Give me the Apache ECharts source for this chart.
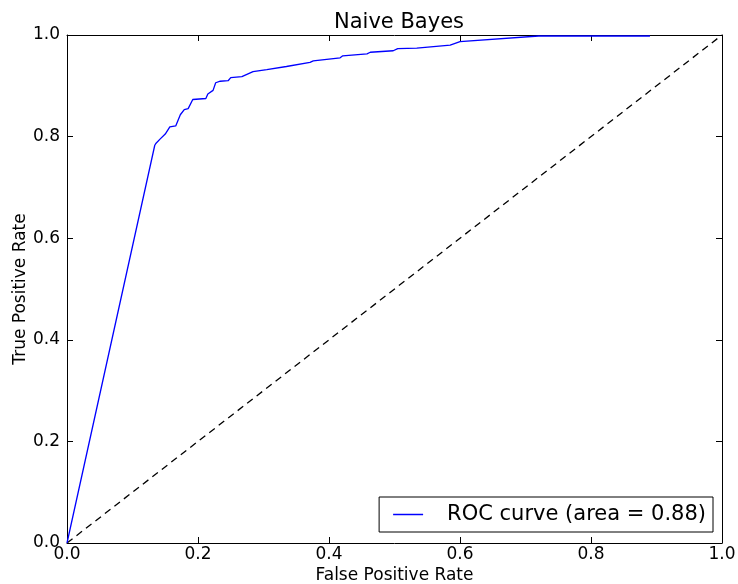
<!DOCTYPE html>
<html>
<head>
<meta charset="utf-8">
<script src="https://cdn.jsdelivr.net/npm/echarts@6/dist/echarts.min.js"></script>
<style>
html,body{margin:0;padding:0;background:#fff;}
#chart{width:738px;height:584px;}
</style>
</head>
<body>
<div id="chart"></div>
<script>
// ROC curve points
var fpr = [0.000, 0.134, 0.136, 0.142, 0.150, 0.157, 0.166, 0.173, 0.179, 0.185, 0.192, 0.212, 0.215, 0.223, 0.227, 0.234, 0.246, 0.250, 0.267, 0.284, 0.305, 0.335, 0.371, 0.376, 0.417, 0.421, 0.458, 0.463, 0.498, 0.505, 0.534, 0.585, 0.600, 0.720, 0.890];
var tpr = [0.000, 0.783, 0.787, 0.795, 0.805, 0.819, 0.821, 0.843, 0.853, 0.855, 0.873, 0.875, 0.884, 0.891, 0.906, 0.909, 0.910, 0.916, 0.918, 0.928, 0.932, 0.938, 0.946, 0.949, 0.955, 0.959, 0.963, 0.966, 0.969, 0.973, 0.974, 0.980, 0.987, 0.998, 0.998];
var chanceX = [0, 1];
var chanceY = [0, 1];
var titleText = 'Naive Bayes';
var xName = 'False Positive Rate';
var yName = 'True Positive Rate';
var rocName = 'ROC curve (area = 0.88)';

function pairs(xs, ys) { return xs.map(function (x, i) { return [x, ys[i]]; }); }

var FONT = 'DejaVu Sans';
var chart = echarts.init(document.getElementById('chart'), null, {renderer: 'canvas'});

function baseAxis(extra) {
  var a = {
    type: 'value', min: 0, max: 1, interval: 0.2,
    splitLine: {show: false},
    axisLine: {show: true, onZero: false, lineStyle: {color: '#000', width: 1}},
    axisTick: {show: true, inside: true, length: 6, lineStyle: {color: '#000'}},
    axisLabel: {show: true, color: '#000', fontFamily: FONT, fontSize: 17,
      formatter: function (v) { return v.toFixed(1); }}
  };
  for (var k in extra) a[k] = extra[k];
  return a;
}

var option = {
  animation: false,
  backgroundColor: '#fff',
  title: {
    text: titleText, left: 394, top: 7, textAlign: 'center',
    textStyle: {fontFamily: FONT, fontSize: 21, fontWeight: 'normal', color: '#000'}
  },
  grid: {left: 67, right: 16, top: 35, bottom: 41, containLabel: false, outerBoundsMode: 'none'},
  xAxis: [
    baseAxis({position: 'bottom', name: xName, nameLocation: 'middle', nameGap: 24,
      nameMoveOverlap: false,
      nameTextStyle: {fontFamily: FONT, fontSize: 17, color: '#000'},
      axisLabel: {show: true, color: '#000', fontFamily: FONT, fontSize: 17, margin: 3,
        formatter: function (v) { return v.toFixed(1); }}}),
    baseAxis({position: 'top', axisLabel: {show: false}})
  ],
  yAxis: [
    baseAxis({position: 'left', name: yName, nameLocation: 'middle', nameGap: 38,
      nameMoveOverlap: false,
      nameTextStyle: {fontFamily: FONT, fontSize: 17, color: '#000'},
      axisLabel: {show: true, color: '#000', fontFamily: FONT, fontSize: 17, margin: 7,
        formatter: function (v) { return v.toFixed(1); }}}),
    baseAxis({position: 'right', axisLabel: {show: false}})
  ],
  legend: {
    data: [{name: rocName, icon: 'rect'}],
    right: 25, bottom: 52,
    orient: 'horizontal',
    itemWidth: 30, itemHeight: 1.5,
    padding: [7, 7, 7, 14],
    borderColor: '#000', borderWidth: 1, borderRadius: 0,
    backgroundColor: '#fff',
    textStyle: {fontFamily: FONT, fontSize: 21, color: '#000', padding: [0, 0, 0, 19]}
  },
  series: [
    {
      name: rocName, type: 'line', xAxisIndex: 0, yAxisIndex: 0,
      data: pairs(fpr, tpr), showSymbol: false, symbol: 'none',
      clip: false,
      lineStyle: {color: '#0000ff', width: 1.3},
      itemStyle: {color: '#0000ff'}
    },
    {
      name: 'chance', type: 'line', xAxisIndex: 0, yAxisIndex: 0,
      data: pairs(chanceX, chanceY), showSymbol: false, symbol: 'none',
      lineStyle: {color: '#000', width: 1.3, type: [7, 5]},
      z: 1
    }
  ]
};
chart.setOption(option);
</script>
</body>
</html>
